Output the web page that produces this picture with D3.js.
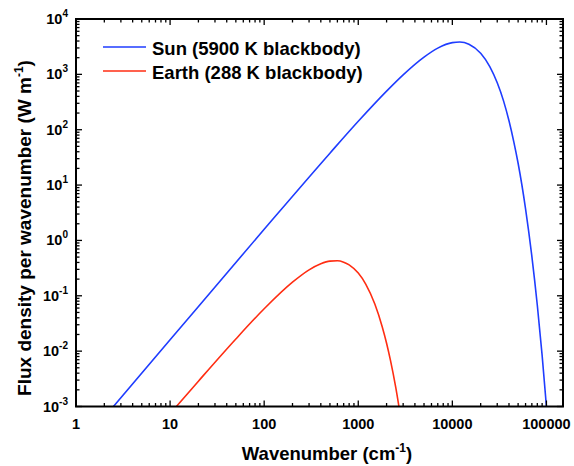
<!DOCTYPE html>
<html>
<head>
<meta charset="utf-8">
<script src="https://cdn.jsdelivr.net/npm/d3@7"></script>
<style>
  body { margin: 0; background: #fff; }
  text { font-family: "Liberation Sans", Arial, sans-serif; font-weight: bold; fill: #000; }
</style>
</head>
<body>
<div id="plot"></div>
<script>
/*------------------------------------------*/
/*            Data         */
/*------------------------------------------*/

var sunWavenumber = [2, 10, 100, 500, 1000, 2000, 3000, 5000, 7000, 10000, 12000, 15000,
                     20000, 25000, 30000, 35000, 40000, 45000, 50000, 60000, 70000, 80000,
                     90000, 100000, 110000];
var sunFlux = [0.00064, 0.016, 1.59, 37.7, 142, 498, 980, 2050, 2980, 3740, 3830, 3500,
               2400, 1380, 703, 332, 145, 60.5, 24.8, 3.73, 0.517, 0.0674,
               0.00837, 0.0010, 0.000116];

var earthWavenumber = [10, 20, 50, 100, 200, 300, 400, 500, 600, 700, 800, 1000, 1200,
                       1500, 1800, 2000, 2200, 2500, 2800, 3000];
var earthFlux = [0.00074, 0.00287, 0.0166, 0.0583, 0.176, 0.294, 0.379, 0.423, 0.429,
                 0.405, 0.362, 0.257, 0.163, 0.071, 0.0274, 0.0139, 0.0068, 0.00223,
                 0.00070, 0.00035];

var xTicks = [1, 10, 100, 1000, 10000, 100000];
var xTickLabels = ["1", "10", "100", "1000", "10000", "100000"];
var yExponents = [-3, -2, -1, 0, 1, 2, 3, 4];

var seriesNames = ["Sun (5900 K blackbody)", "Earth (288 K blackbody)"];
var seriesColors = ["#1f3dff", "#ff2d12"];

/*------------------------------------------*/
/*            Chart                          */
/*------------------------------------------*/

var W = 574, H = 466;
var margin = {top: 19, right: 11, bottom: 59.5, left: 76};
var width = W - margin.left - margin.right,
    height = H - margin.top - margin.bottom;

var svg = d3.select("#plot").append("svg")
    .attr("width", W)
    .attr("height", H);

var chart = svg.append("g")
    .attr("transform", "translate(" + margin.left + "," + margin.top + ")");

var x = d3.scaleLog().domain([1, 150000]).range([0, width]);
var y = d3.scaleLog().domain([1e-3, 1e4]).range([height, 0]);

chart.append("clipPath").attr("id", "clip")
  .append("rect").attr("width", width).attr("height", height);

// curves
var line = d3.line()
    .x(function(d) { return x(d[0]); })
    .y(function(d) { return y(d[1]); })
    .curve(d3.curveMonotoneX);

var series = [
  d3.zip(sunWavenumber, sunFlux),
  d3.zip(earthWavenumber, earthFlux)
];

chart.selectAll(".curve")
  .data(series)
  .enter().append("path")
  .attr("class", "curve")
  .attr("clip-path", "url(#clip)")
  .attr("d", line)
  .style("fill", "none")
  .style("stroke", function(d, i) { return seriesColors[i]; })
  .style("stroke-width", 1.6);

// minor/major ticks on all four sides, pointing inward
var xMinor = [], yMinor = [];
xTicks.forEach(function(t) {
  for (var k = 2; k <= 9; k++) { if (t * k <= 150000) xMinor.push(t * k); }
});
yExponents.slice(0, -1).forEach(function(e) {
  for (var k = 2; k <= 9; k++) yMinor.push(k * Math.pow(10, e));
});
var yMajor = yExponents.map(function(e) { return Math.pow(10, e); });

var majorLen = 6, minorLen = 3.5;

function xTickMarks(values, len) {
  values.forEach(function(v) {
    chart.append("line").attr("x1", x(v)).attr("x2", x(v))
      .attr("y1", height).attr("y2", height - len);
    chart.append("line").attr("x1", x(v)).attr("x2", x(v))
      .attr("y1", 0).attr("y2", len);
  });
}
function yTickMarks(values, len) {
  values.forEach(function(v) {
    chart.append("line").attr("y1", y(v)).attr("y2", y(v))
      .attr("x1", 0).attr("x2", len);
    chart.append("line").attr("y1", y(v)).attr("y2", y(v))
      .attr("x1", width).attr("x2", width - len);
  });
}
xTickMarks(xTicks, majorLen);
xTickMarks(xMinor, minorLen);
yTickMarks(yMajor, majorLen);
yTickMarks(yMinor, minorLen);

chart.selectAll("line")
  .style("stroke", "#000")
  .style("stroke-width", 1.3);

// frame
chart.append("rect")
  .attr("width", width)
  .attr("height", height)
  .style("fill", "none")
  .style("stroke", "#000")
  .style("stroke-width", 2);

// tick labels
chart.selectAll(".xlabel")
  .data(xTicks)
  .enter().append("text")
  .attr("class", "xlabel")
  .attr("x", function(d) { return x(d); })
  .attr("y", height + 22)
  .attr("text-anchor", "middle")
  .style("font-size", "14.5px")
  .text(function(d, i) { return xTickLabels[i]; });

var yl = chart.selectAll(".ylabel")
  .data(yExponents)
  .enter().append("text")
  .attr("class", "ylabel")
  .attr("x", -8)
  .attr("y", function(d) { return y(Math.pow(10, d)) + 5; })
  .attr("text-anchor", "end")
  .style("font-size", "14.5px");
yl.append("tspan").text("10");
yl.append("tspan")
  .attr("dy", -7)
  .style("font-size", "10px")
  .text(function(d) { return d; });

// axis titles
var xt = svg.append("text")
  .attr("x", 327)
  .attr("y", 460)
  .attr("text-anchor", "middle")
  .style("font-size", "18.5px");
xt.append("tspan").text("Wavenumber (cm");
xt.append("tspan").attr("dy", -8).style("font-size", "12px").text("-1");
xt.append("tspan").attr("dy", 8).text(")");

var yt = svg.append("text")
  .attr("transform", "translate(31,228) rotate(-90)")
  .attr("text-anchor", "middle")
  .style("font-size", "19px");
yt.append("tspan").text("Flux density per wavenumber (W m");
yt.append("tspan").attr("dy", -8).style("font-size", "12px").text("-1");
yt.append("tspan").attr("dy", 8).text(")");

// legend
var legend = svg.selectAll(".legend")
  .data(seriesNames)
  .enter().append("g")
  .attr("class", "legend")
  .attr("transform", function(d, i) { return "translate(103," + (47 + i * 24) + ")"; });
legend.append("line")
  .attr("x1", 0).attr("x2", 43)
  .style("stroke", function(d, i) { return seriesColors[i]; })
  .style("stroke-width", 1.6);
legend.append("text")
  .attr("x", 49)
  .attr("y", 8)
  .style("font-size", "18.5px")
  .text(function(d) { return d; });
</script>
</body>
</html>
